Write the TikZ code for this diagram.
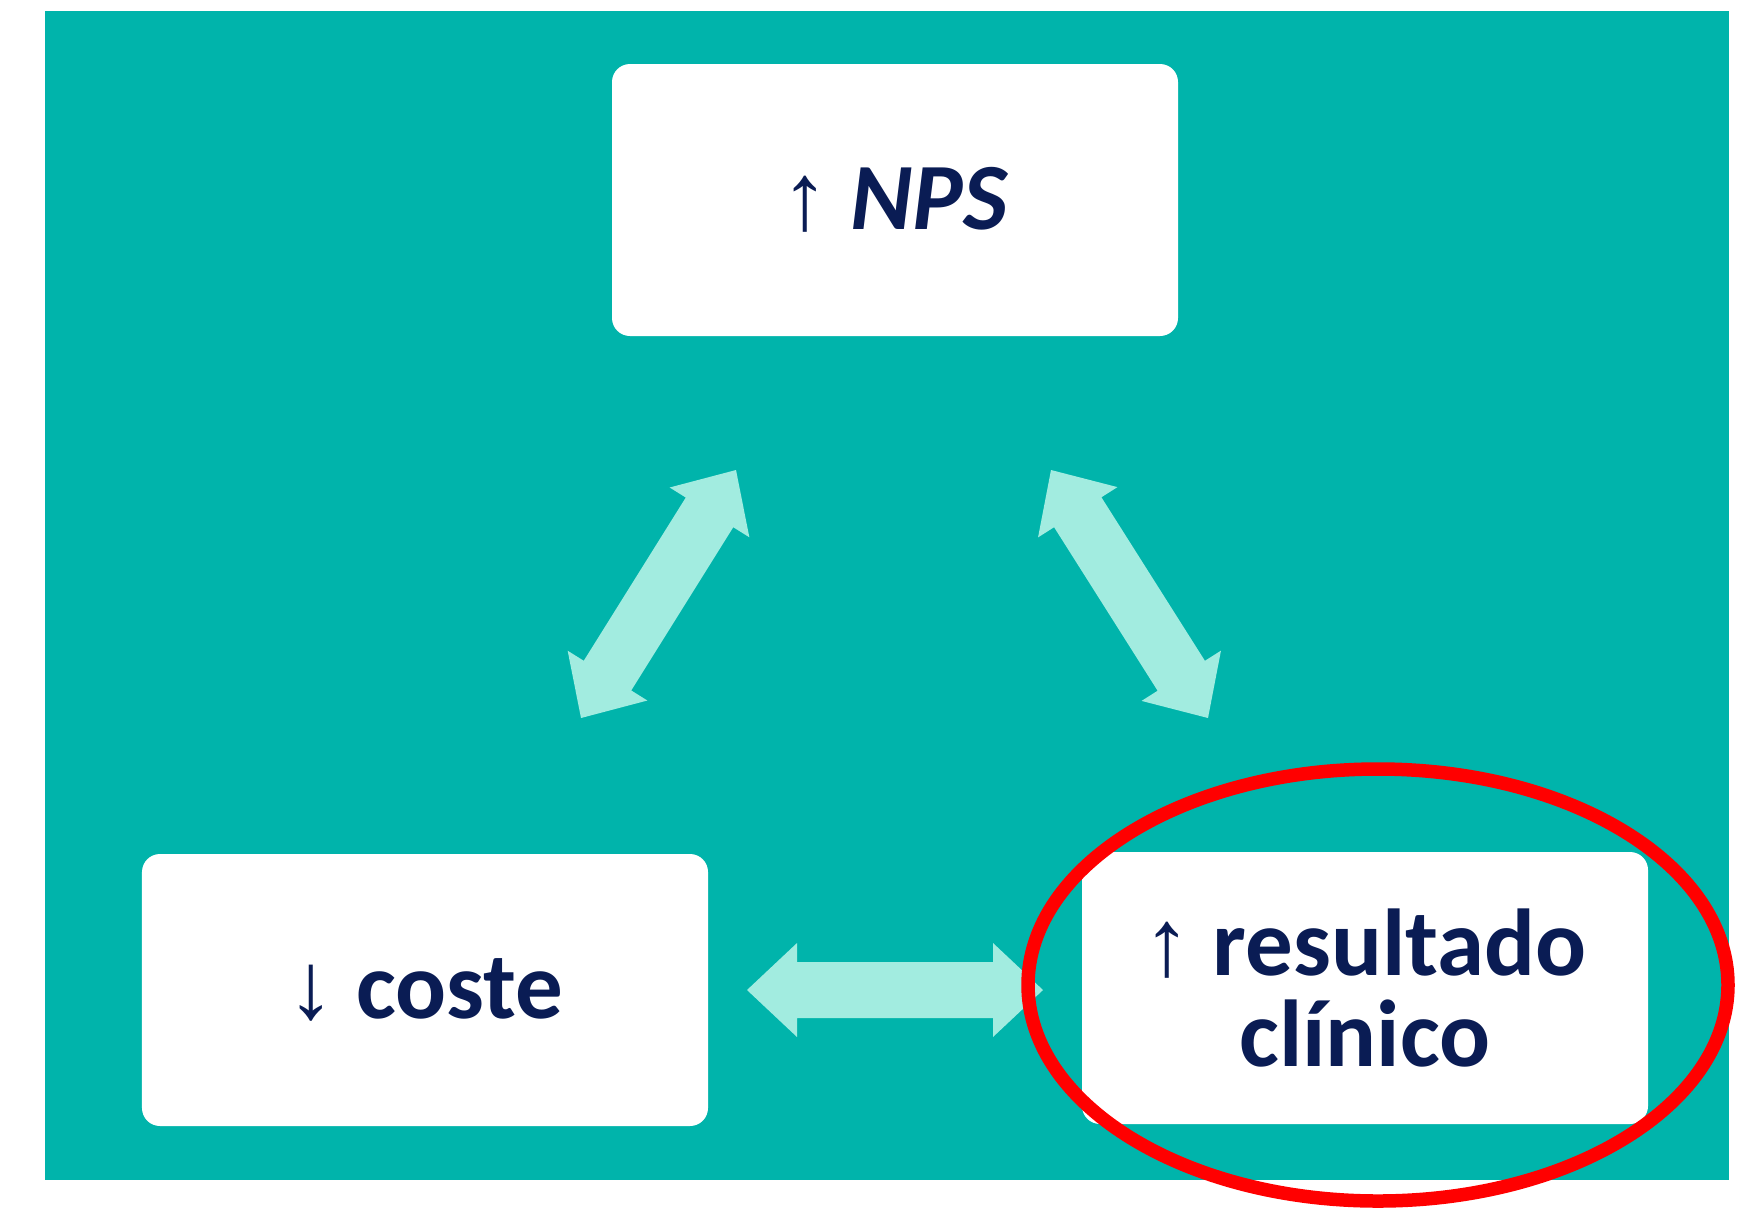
\documentclass[tikz,border=0pt]{standalone}
\usepackage{fontspec}
\setmainfont{Carlito}
\newfontfamily\arrowfont{Liberation Sans}
\usetikzlibrary{calc}
\definecolor{bgteal}{RGB}{0,180,171}
\definecolor{arrowaqua}{RGB}{162,236,224}
\definecolor{textnavy}{RGB}{10,28,84}
\tikzset{
  box/.style={fill=white, rounded corners=7.2pt, minimum width=226.4pt,
    minimum height=108.8pt, inner sep=0pt, text=textnavy, align=center,
    font=\bfseries\fontsize{38}{36}\selectfont},
  fat/.style={fill=arrowaqua},
  ring/.style={draw=red, line width=5.4pt}
}
\newcommand\fatarrow[2]{%
  \fill[fat] (#1)
    -- ($(#1)!20pt!(#2)!18.8pt!90:(#2)$)
    -- ($(#1)!20pt!(#2)!11.2pt!90:(#2)$)
    -- ($(#2)!20pt!(#1)!11.2pt!-90:(#1)$)
    -- ($(#2)!20pt!(#1)!18.8pt!-90:(#1)$)
    -- (#2)
    -- ($(#2)!20pt!(#1)!18.8pt!90:(#1)$)
    -- ($(#2)!20pt!(#1)!11.2pt!90:(#1)$)
    -- ($(#1)!20pt!(#2)!11.2pt!-90:(#2)$)
    -- ($(#1)!20pt!(#2)!18.8pt!-90:(#2)$)
    -- cycle;}
\begin{document}
\begin{tikzpicture}[x=0.4pt,y=-0.4pt]
\useasboundingbox (0,0) rectangle (1751,1207);
\fill[bgteal] (45,11) rectangle (1729,1180);
\node[box] (nps) at (895,200) {{\arrowfont ↑} \textit{NPS}};
\node[box] (coste) at (425,990) {{\arrowfont ↓} coste};
\node[box] (res) at (1365,988) {{\arrowfont ↑} resultado\\clínico};
\coordinate (l1) at (736,470);
\coordinate (l2) at (581,718);
\coordinate (r1) at (1051,470);
\coordinate (r2) at (1208,718);
\coordinate (h1) at (747,990);
\coordinate (h2) at (1043,990);
\fatarrow{l1}{l2}
\fatarrow{r1}{r2}
\fatarrow{h1}{h2}
\draw[ring] (1378,985) ellipse [x radius=140pt, y radius=86.4pt];
\end{tikzpicture}
\end{document}
